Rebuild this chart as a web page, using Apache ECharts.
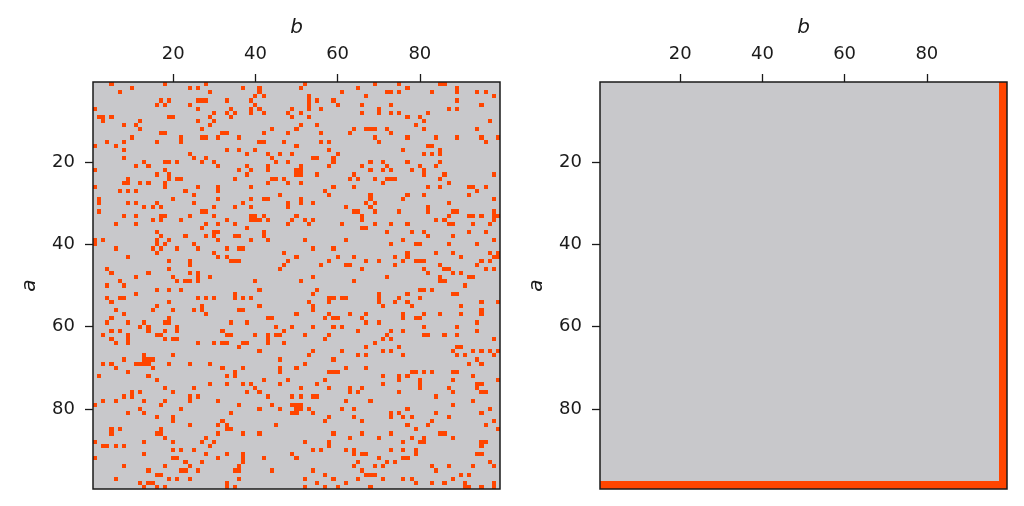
<!DOCTYPE html>
<html>
<head>
<meta charset="utf-8">
<title>a b</title>
<script src="https://cdn.jsdelivr.net/npm/echarts@6/dist/echarts.min.js"></script>
<style>
html, body { margin: 0; padding: 0; background: #fff; }
#chart { width: 1024px; height: 506px; }
</style>
</head>
<body>
<div id="chart"></div>
<script>
// tick values shown on both axes
var tickValues = [20, 40, 60, 80];

// cell colours: empty, filled
var cellColors = ['#c8c8cb', '#ff4500'];

// right panel: these rows and columns are filled completely
var rightFilledRows = [98, 99];
var rightFilledCols = [98, 99];

// left panel: for each row a (first line is a=1), the filled columns b
var leftFilled = [
    [5,18,28,52,69,75,85,86],
    [10,24,26,37,41,51,65,77,89],
    [7,29,41,61,72,73,75,83,89,94,96],
    [40,42,53,67,98],
    [17,19,26,27,28,33,39,53,55,59,89],
    [16,18,24,40,53,60,66,73,95],
    [1,26,34,39,41,49,53,56,70,87,89],
    [30,33,35,39,42,48,51,66,70,73,75,82],
    [2,3,5,19,20,29,34,49,53,77,80],
    [3,12,26,30,81,97],
    [8,11,29,51,55,79],
    [12,27,44,50,64,67,68,69,72,81,94],
    [17,18,32,33,42,48,56,63,73],
    [10,22,27,28,31,36,69,77,84,89,95,99],
    [4,8,16,22,41,42,47,56,58,70,96],
    [1,6,50,82,83],
    [8,33,36,40,58,76,85],
    [24,38,43,46,49,60,81,83,85],
    [8,25,28,44,54,55,59],
    [13,18,19,21,27,30,45,48,59,68,71,77,85],
    [11,14,31,38,43,51,58,66,72,80,84],
    [1,18,36,39,43,50,51,68,71,73,78,81],
    [16,19,38,50,51,55,64,81,86,98],
    [9,19,21,22,35,44,45,47,63,65,69,72,73,74,85],
    [8,9,12,14,18,43,48,51,71,87],
    [1,18,26,31,39,59,64,82,85,92,93,96],
    [7,9,11,23,31,57,94],
    [25,46,58,68,77,81,92],
    [2,20,31,39,42,43,51,68,76,98],
    [2,9,11,16,25,37,48,51,54,67,69,87],
    [13,15,17,30,35,39,48,62,68,82],
    [2,27,28,64,65,69,75,82,88,89,98],
    [8,11,17,18,24,30,39,40,42,50,66,87,92,93,95,98,99],
    [15,17,22,33,39,40,41,43,49,52,54,66,84,86,98],
    [6,11,28,31,35,48,53,61,69,73,77,87,88,93,97],
    [27,38,66,67],
    [16,30,31,42,72,78,81,92,96],
    [17,23,28,30,35,36,42,82,88],
    [1,3,16,19,31,39,43,52,62,76,98],
    [1,16,18,25,73,79,80,87,94],
    [6,15,17,21,26,33,36,37,54,59],
    [16,30,47,77,84,88,97,99],
    [9,31,33,50,60,64,74,77,90,98,99],
    [19,24,34,35,36,48,58,67,70,76,79,80,81,95,97],
    [24,47,56,62,63,74,85,94],
    [4,19,46,66,81,86,87,96,98],
    [5,14,24,26,82,88,90],
    [11,20,26,29,54,72,85,92,93],
    [7,21,23,24,26,40,51,64,85,86],
    [4,8,91],
    [16,19,22,41,55,80,81,83],
    [11,35,54,70,77,88,89],
    [4,7,8,26,28,30,35,37,39,58,59,61,62,70,75,80],
    [5,19,53,58,70,74,77,95,99],
    [16,27,41,54,71,78,90],
    [6,15,20,25,27,36,37,54,95],
    [8,28,50,58,63,67,76,81,85,90,95],
    [5,19,43,44,57,59,60,66,76,79,80],
    [4,9,13,18,19,34,38,67,70,94],
    [12,14,21,45,49,54,59,61,81,89],
    [5,7,14,18,21,32,47,65,73,76,94],
    [3,9,16,17,33,34,40,43,45,46,52,58,72,81,82,86,89],
    [5,9,18,20,21,43,57,71,73,98],
    [6,9,26,30,32,33,37,38,43,47,69],
    [36,67,75,89,90],
    [41,54,61,71,73,88,93,95,97,99],
    [13,20,53,65,67,76,89,91,98],
    [8,13,14,15,46,59,94],
    [3,5,11,12,13,14,19,24,29,52,92,95],
    [6,15,32,37,46,50,62,67],
    [9,35,46,58,59,60,78,79,81,83,88,89],
    [2,14,33,35,71,75,77,93],
    [16,42,48,57,75,80,88,99],
    [29,33,37,39,46,55,71,80,94,95],
    [18,25,40,51,58,63,66,80,87,94],
    [10,12,20,38,41,63,65,75,88,95,96],
    [8,10,24,26,43,49,51,54,55,84],
    [3,6,13,18,24,31,62,68,93],
    [1,17,36,44,49,50,51,88],
    [12,22,41,46,50,51,53,61,64,77,97],
    [9,13,34,49,50,54,73,75,84,95],
    [16,20,58,64,73,76,78,87],
    [20,32,57,66,83,98],
    [24,31,33,45,77,82,96],
    [5,7,17,33,34,79,99],
    [5,16,17,31,37,41,59,66,73,85,86],
    [18,28,63,70,78,81,88],
    [1,13,20,27,30,52,58,76,80,81,95,96],
    [3,4,6,8,29,58,95],
    [20,22,25,54,56,62,64,73,76,79],
    [13,28,33,37,49,64,66,67,79,94,95],
    [1,20,21,31,37,42,50,70,76,77],
    [23,27,37,65,72,74,97],
    [8,18,24,36,64,69,71,83,87,93,98],
    [14,22,23,26,35,36,44,54,66,84],
    [16,17,57,67,68,69,90,92],
    [6,19,21,24,36,52,59,65,71,76,78,88],
    [12,14,15,33,55,62,79,83,86,91,98],
    [13,16,18,33,35,52,57,60,68,91,92,95,98]
];

var labels = [];
for (var n = 1; n <= leftFilled.length; n++) {
    labels.push(String(n));
}

function recorrer(fn) {
    for (var a = 1; a <= labels.length; a++) {
        for (var b = 1; b <= labels.length; b++) {
            fn(a, b);
        }
    }
}

function matrizIzquierda() {
    var data = [];
    recorrer(function(a, b) {
        data.push([b - 1, a - 1, leftFilled[a - 1].indexOf(b) >= 0 ? 1 : 0]);
    });
    return data;
}

function matrizDerecha() {
    var data = [];
    recorrer(function(a, b) {
        var lleno = rightFilledRows.indexOf(a) >= 0 || rightFilledCols.indexOf(b) >= 0;
        data.push([b - 1, a - 1, lleno ? 1 : 0]);
    });
    return data;
}

function esTick(index, value) {
    return tickValues.indexOf(Number(value)) >= 0;
}

var textColor = '#1a1a1a';
var font = 'DejaVu Sans';

function ejeBase(gridIndex, margin) {
    return {
        type: 'category',
        gridIndex: gridIndex,
        data: labels,
        nameLocation: 'middle',
        nameTextStyle: { fontFamily: font, fontStyle: 'italic', fontSize: 20, color: textColor },
        axisLine: { show: false },
        axisTick: { show: true, interval: esTick, alignWithLabel: true, length: 8, lineStyle: { color: textColor, width: 1.3 } },
        axisLabel: { show: true, interval: esTick, margin: margin, fontFamily: font, fontSize: 18, color: textColor, hideOverlap: false },
        splitLine: { show: false },
        splitArea: { show: false }
    };
}

function ejeX(gridIndex) {
    var eje = ejeBase(gridIndex, 18.5);
    eje.position = 'top';
    eje.name = 'b';
    eje.nameGap = 44;
    return eje;
}

function ejeY(gridIndex) {
    var eje = ejeBase(gridIndex, 18);
    eje.inverse = true;
    eje.name = 'a';
    eje.nameGap = 53;
    return eje;
}

// each cell snapped to whole pixels so neighbours do not leave seams
function dibujarCelda(params, api) {
    var centro = api.coord([api.value(0), api.value(1)]);
    var size = api.size([1, 1]);
    var x0 = Math.round(centro[0] - size[0] / 2);
    var x1 = Math.round(centro[0] + size[0] / 2);
    var y0 = Math.round(centro[1] - size[1] / 2);
    var y1 = Math.round(centro[1] + size[1] / 2);
    return {
        type: 'rect',
        shape: { x: x0, y: y0, width: x1 - x0, height: y1 - y0 },
        style: { fill: cellColors[api.value(2)] },
        silent: true
    };
}

function serie(gridIndex, data) {
    return {
        type: 'custom',
        coordinateSystem: 'cartesian2d',
        xAxisIndex: gridIndex,
        yAxisIndex: gridIndex,
        renderItem: dibujarCelda,
        encode: { x: 0, y: 1 },
        data: data,
        z: 1,
        progressive: 0,
        animation: false,
        silent: true
    };
}

var chart = echarts.init(document.getElementById('chart'), null, { renderer: 'canvas' });
chart.setOption({
    animation: false,
    backgroundColor: '#ffffff',
    tooltip: { show: false },
    grid: [
        { left: 93, top: 82, width: 407, height: 407, show: true, z: 5, backgroundColor: 'transparent', borderColor: '#1a1a1a', borderWidth: 1.5 },
        { left: 600, top: 82, width: 407, height: 407, show: true, z: 5, backgroundColor: 'transparent', borderColor: '#1a1a1a', borderWidth: 1.5 }
    ],
    xAxis: [ejeX(0), ejeX(1)],
    yAxis: [ejeY(0), ejeY(1)],
    series: [serie(0, matrizIzquierda()), serie(1, matrizDerecha())]
});
</script>
</body>
</html>
